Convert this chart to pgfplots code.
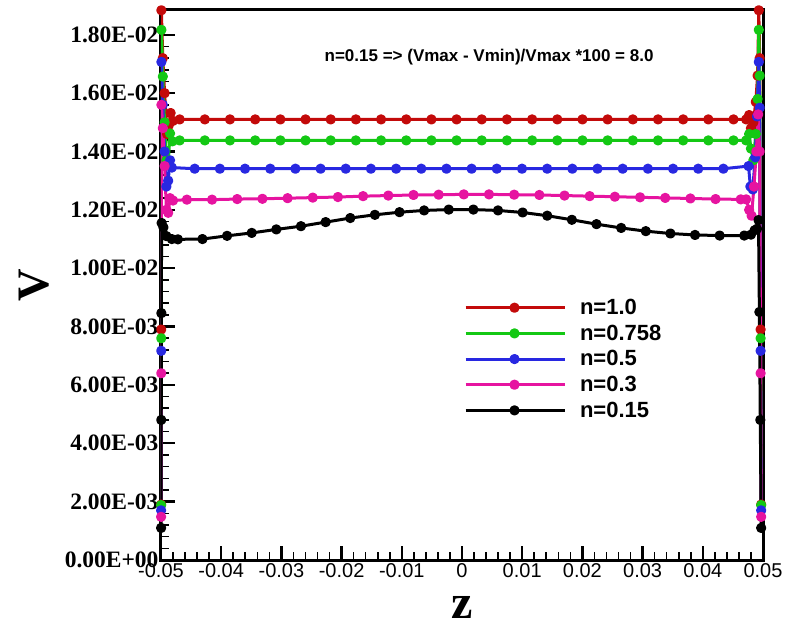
\documentclass[border=0pt]{standalone}
\usepackage{fontspec}
\setmainfont{Liberation Serif}
\newfontfamily\arial{Liberation Sans}
\usepackage{pgfplots}
\pgfplotsset{compat=1.18}
\definecolor{cRed}{RGB}{195,10,10}
\definecolor{cGreen}{RGB}{20,200,20}
\definecolor{cBlue}{RGB}{40,40,225}
\definecolor{cPink}{RGB}{230,20,160}
\begin{document}
\begin{tikzpicture}
\useasboundingbox (-161pt,-81pt) rectangle (646pt,560pt);
\begin{axis}[
  at={(0,0)}, anchor=south west,
  scale only axis, width=602pt, height=550pt,
  xmin=-0.05, xmax=0.05, ymin=0, ymax=0.01885,
  xtick={-0.05,-0.04,-0.03,-0.02,-0.01,0,0.01,0.02,0.03,0.04,0.05},
  xticklabels={-0.05,-0.04,-0.03,-0.02,-0.01,0,0.01,0.02,0.03,0.04,0.05},
  ytick={0,0.002,0.004,0.006,0.008,0.010,0.012,0.014,0.016,0.018},
  yticklabels={0.00E+00,2.00E-03,4.00E-03,6.00E-03,8.00E-03,1.00E-02,1.20E-02,1.40E-02,1.60E-02,1.80E-02},
  scaled ticks=false,
  minor tick num=4,
  tick pos=left, tick align=inside,
  major tick length=14pt, minor tick length=8pt,
  major tick style={black, line width=2.4pt},
  minor tick style={black, line width=1.6pt},
  axis line style={line width=3pt},
  xticklabel style={font=\arial\fontsize{20}{20}\selectfont},
  yticklabel style={font=\fontsize{23.5}{23.5}\selectfont\bfseries, xshift=1pt},
  xlabel={z}, ylabel={V},
  xlabel style={font=\fontsize{48}{48}\selectfont\bfseries, at={(axis description cs:0.5,-0.087)}, anchor=center},
  ylabel style={font=\fontsize{45}{45}\selectfont\bfseries, at={(axis description cs:-0.211,0.5)}, anchor=center},
  legend cell align=left,
  legend style={at={(axis description cs:0.503,0.478)}, anchor=north west, draw=none, fill=none,
    font=\arial\bfseries\fontsize{22}{22}\selectfont, row sep=4.8pt, inner sep=0pt,
    /tikz/every odd column/.append style={column sep=12pt}},
  legend image code/.code={\draw[line width=3pt,mark repeat=2,mark phase=2] plot coordinates {(0pt,0pt) (49pt,0pt) (99pt,0pt)};},
  every axis plot/.append style={line width=3pt, line join=round, mark=*, mark size=3.6pt, mark options={solid}},
]
\addplot[cRed] coordinates {
(-0.04998,0.0019) (-0.04996,0.0079) (-0.04994,0.01884) (-0.0497,0.0172) (-0.0494,0.0160)
(-0.0490,0.0146) (-0.0487,0.0149) (-0.0484,0.01532) (-0.0480,0.01505)
(-0.04690,0.0151) (-0.04272,0.0151) (-0.03854,0.0151) (-0.03435,0.0151) (-0.03017,0.0151)
(-0.02599,0.0151) (-0.02181,0.0151) (-0.01763,0.0151) (-0.01344,0.0151) (-0.00926,0.0151)
(-0.00508,0.0151) (-0.00090,0.0151) (0.00328,0.0151) (0.00747,0.0151) (0.01165,0.0151)
(0.01583,0.0151) (0.02001,0.0151) (0.02419,0.0151) (0.02838,0.0151) (0.03256,0.0151)
(0.03674,0.0151) (0.04092,0.0151) (0.04510,0.0151)
(0.0472,0.0151) (0.0477,0.01525) (0.0480,0.0148) (0.0484,0.0150) (0.0488,0.0157)
(0.0491,0.0166) (0.0493,0.01884) (0.04945,0.0172) (0.0496,0.0079) (0.0497,0.0019)
};
\addlegendentry{{n=1.0}}
\addplot[cGreen] coordinates {
(-0.04998,0.00188) (-0.04996,0.0076) (-0.04993,0.01817) (-0.0497,0.01657) (-0.0494,0.0150)
(-0.0491,0.0137) (-0.0488,0.0136) (-0.0485,0.01462) (-0.0481,0.01435)
(-0.04690,0.01438) (-0.04272,0.01438) (-0.03854,0.01438) (-0.03435,0.01438) (-0.03017,0.01438)
(-0.02599,0.01438) (-0.02181,0.01438) (-0.01763,0.01438) (-0.01344,0.01438) (-0.00926,0.01438)
(-0.00508,0.01438) (-0.00090,0.01438) (0.00328,0.01438) (0.00747,0.01438) (0.01165,0.01438)
(0.01583,0.01438) (0.02001,0.01438) (0.02419,0.01438) (0.02838,0.01438) (0.03256,0.01438)
(0.03674,0.01438) (0.04092,0.01438) (0.04510,0.01438)
(0.0472,0.01438) (0.0477,0.0146) (0.0480,0.0141) (0.0484,0.0137) (0.0488,0.0146)
(0.0491,0.0158) (0.0493,0.01817) (0.04945,0.0166) (0.0496,0.0076) (0.0497,0.00188)
};
\addlegendentry{{n=0.758}}
\addplot[cBlue] coordinates {
(-0.04998,0.0017) (-0.04996,0.00717) (-0.04993,0.01707) (-0.0497,0.0156) (-0.0494,0.0140)
(-0.0491,0.0128) (-0.0488,0.0130) (-0.0485,0.0137) (-0.0482,0.01345)
(-0.04440,0.01341) (-0.04022,0.01341) (-0.03604,0.01341) (-0.03185,0.01341) (-0.02767,0.01341)
(-0.02349,0.01341) (-0.01931,0.01341) (-0.01513,0.01341) (-0.01094,0.01341) (-0.00676,0.01341)
(-0.00258,0.01341) (0.00160,0.01341) (0.00578,0.01341) (0.00997,0.01341) (0.01415,0.01341)
(0.01833,0.01341) (0.02251,0.01341) (0.02669,0.01341) (0.03088,0.01341) (0.03506,0.01341)
(0.03924,0.01341) (0.04342,0.01341) (0.04760,0.0135)
(0.0479,0.0128) (0.0483,0.0127) (0.0487,0.0138) (0.0490,0.0152)
(0.0493,0.01707) (0.04945,0.0155) (0.0496,0.00717) (0.0497,0.0017)
};
\addlegendentry{{n=0.5}}
\addplot[cPink] coordinates {
(-0.04998,0.00148) (-0.04996,0.0064) (-0.04993,0.0156) (-0.0497,0.0148) (-0.0494,0.0135)
(-0.0491,0.0120) (-0.0488,0.0119) (-0.0485,0.0124) (-0.0480,0.01232)
(-0.04570,0.01235) (-0.04152,0.01235) (-0.03734,0.01237) (-0.03315,0.01238) (-0.02897,0.01240)
(-0.02479,0.01242) (-0.02061,0.01244) (-0.01643,0.01247) (-0.01224,0.01249) (-0.00806,0.01251)
(-0.00388,0.01252) (0.00030,0.01253) (0.00448,0.01253) (0.00867,0.01252) (0.01285,0.01251)
(0.01703,0.01249) (0.02121,0.01247) (0.02539,0.01245) (0.02958,0.01243) (0.03376,0.01241)
(0.03794,0.01239) (0.04212,0.01237) (0.04630,0.01236)
(0.0472,0.01236) (0.0477,0.0120) (0.0481,0.0118) (0.0485,0.0128) (0.0489,0.0140)
(0.0492,0.01527) (0.04945,0.0140) (0.0496,0.0064) (0.0497,0.00148)
};
\addlegendentry{{n=0.3}}
\addplot[black] coordinates {
(-0.04998,0.0011) (-0.04996,0.0048) (-0.04994,0.00846) (-0.0499,0.01155) (-0.0496,0.0114)
(-0.0491,0.0111) (-0.0482,0.01100)
(-0.04720,0.01099) (-0.04311,0.01100) (-0.03902,0.01111) (-0.03493,0.01121) (-0.03084,0.01133)
(-0.02675,0.01144) (-0.02265,0.01158) (-0.01856,0.01172) (-0.01447,0.01183) (-0.01038,0.01192)
(-0.00629,0.01198) (-0.00220,0.01201) (0.00189,0.01201) (0.00598,0.01198) (0.01007,0.01191)
(0.01416,0.01180) (0.01825,0.01166) (0.02234,0.01151) (0.02644,0.01138) (0.03053,0.01127)
(0.03462,0.01119) (0.03871,0.01114) (0.04280,0.01112) (0.04689,0.01112)
(0.0480,0.01115) (0.0486,0.0113) (0.0490,0.01135) (0.04925,0.01165)
(0.0494,0.0085) (0.04955,0.0048) (0.0497,0.0011)
};
\addlegendentry{{n=0.15}}
\node[font=\arial\bfseries\fontsize{17}{17}\selectfont] at (axis description cs:0.545,0.9145) {n=0.15 => (Vmax - Vmin)/Vmax *100 = 8.0};
\end{axis}
\end{tikzpicture}
\end{document}
